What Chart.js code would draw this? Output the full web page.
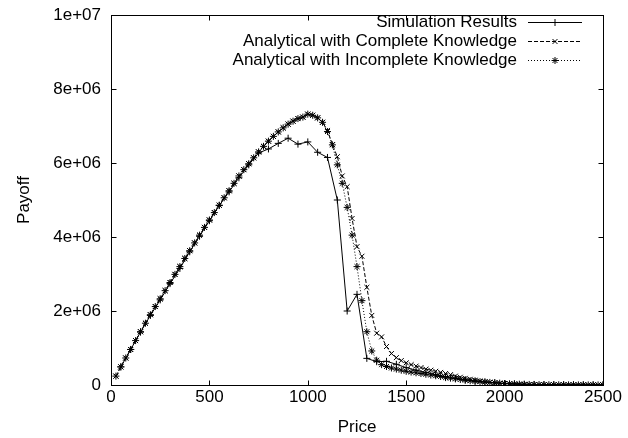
<!DOCTYPE html>
<html>
<head>
<meta charset="utf-8">
<script src="https://cdn.jsdelivr.net/npm/chart.js@4.4.0/dist/chart.umd.min.js"></script>
<style>
  body { margin: 0; background: #fff; }
</style>
</head>
<body>
<canvas id="payoffChart" width="628" height="438"></canvas>
<script>
// simulation sampled every 50, the analytical curves every 25
var simPrice = [50, 100, 150, 200, 250, 300, 350, 400, 450, 500,
    550, 600, 650, 700, 750, 800, 850, 900, 950, 1000,
    1050, 1100, 1150, 1200, 1250, 1300, 1350, 1400, 1450, 1500,
    1550, 1600, 1650, 1700, 1750, 1800, 1850, 1900, 1950, 2000,
    2050, 2100, 2150, 2200, 2250, 2300, 2350, 2400, 2450, 2500];
var simPayoff = [490000, 960000, 1430000, 1880000, 2300000, 2740000, 3150000, 3600000, 4020000, 4440000,
    4850000, 5220000, 5600000, 5950000, 6270000, 6380000, 6530000, 6670000, 6510000, 6570000,
    6290000, 6150000, 5000000, 2000000, 2450000, 720000, 630000, 640000, 560000, 470000,
    400000, 340000, 280000, 230000, 180000, 140000, 110000, 80000, 60000, 40000,
    30000, 20000, 15000, 10000, 10000, 8000, 6000, 5000, 4000, 3000];

var anaPrice = [25, 50, 75, 100, 125, 150, 175, 200, 225, 250,
    275, 300, 325, 350, 375, 400, 425, 450, 475, 500,
    525, 550, 575, 600, 625, 650, 675, 700, 725, 750,
    775, 800, 825, 850, 875, 900, 925, 950, 975, 1000,
    1025, 1050, 1075, 1100, 1125, 1150, 1175, 1200, 1225, 1250,
    1275, 1300, 1325, 1350, 1375, 1400, 1425, 1450, 1475, 1500,
    1525, 1550, 1575, 1600, 1625, 1650, 1675, 1700, 1725, 1750,
    1775, 1800, 1825, 1850, 1875, 1900, 1925, 1950, 1975, 2000,
    2025, 2050, 2075, 2100, 2125, 2150, 2175, 2200, 2225, 2250,
    2275, 2300, 2325, 2350, 2375, 2400, 2425, 2450, 2475, 2500];
var completePayoff = [240000, 490000, 730000, 960000, 1200000, 1440000, 1670000, 1900000, 2120000, 2330000,
    2550000, 2770000, 2990000, 3200000, 3420000, 3630000, 3840000, 4050000, 4260000, 4460000,
    4660000, 4860000, 5060000, 5250000, 5450000, 5650000, 5820000, 5980000, 6140000, 6300000,
    6450000, 6590000, 6720000, 6840000, 6950000, 7050000, 7130000, 7200000, 7240000, 7320000,
    7290000, 7220000, 7100000, 6880000, 6500000, 6170000, 5650000, 5360000, 4500000, 3740000,
    3480000, 2640000, 1880000, 1400000, 1300000, 1040000, 850000, 740000, 660000, 600000,
    550000, 510000, 470000, 430000, 400000, 370000, 340000, 310000, 280000, 240000,
    210000, 180000, 155000, 130000, 110000, 90000, 75000, 60000, 50000, 40000,
    32000, 26000, 21000, 17000, 14000, 12000, 10000, 8500, 7000, 6000,
    5000, 4200, 3500, 3000, 2500, 2100, 1800, 1500, 1200, 1000];
var incompletePayoff = [240000, 490000, 730000, 960000, 1200000, 1440000, 1670000, 1900000, 2120000, 2330000,
    2550000, 2770000, 2990000, 3200000, 3420000, 3630000, 3840000, 4050000, 4260000, 4460000,
    4660000, 4860000, 5060000, 5250000, 5450000, 5650000, 5820000, 5980000, 6140000, 6300000,
    6450000, 6590000, 6720000, 6840000, 6950000, 7050000, 7130000, 7200000, 7240000, 7320000,
    7290000, 7220000, 7100000, 6850000, 6490000, 5950000, 5450000, 4800000, 4050000, 3200000,
    2280000, 1440000, 920000, 670000, 550000, 500000, 460000, 430000, 400000, 370000,
    350000, 330000, 310000, 290000, 270000, 250000, 230000, 200000, 185000, 165000,
    150000, 130000, 115000, 100000, 90000, 80000, 70000, 60000, 50000, 40000,
    33000, 27000, 22000, 18000, 15000, 12000, 10000, 8500, 7000, 6000,
    5000, 4200, 3500, 3000, 2500, 2100, 1800, 1500, 1200, 1000];

var seriesNames = ['Simulation Results', 'Analytical with Complete Knowledge', 'Analytical with Incomplete Knowledge'];
var xTicks = [0, 500, 1000, 1500, 2000, 2500];
var yTicks = [0, 2000000, 4000000, 6000000, 8000000, 10000000];

var FONT = 'Liberation Sans, Arial, Helvetica, sans-serif';

function toPoints(xs, ys) {
    return xs.map(function (x, i) { return {x: x, y: ys[i]}; });
}

// gnuplot style %g labels: 2e+06, 1e+07
function gnuLabel(v) {
    if (v === 0) return '0';
    if (Math.abs(v) < 1e5) return String(v);
    return v.toExponential().replace(/e\+(\d)$/, 'e+0$1');
}

// box border, inward mirrored ticks and the key in the top right corner
var gnuplotFrame = {
    id: 'gnuplotFrame',
    afterDraw: function (chart) {
        var ctx = chart.ctx;
        var a = chart.chartArea;
        var sx = chart.scales.x, sy = chart.scales.y;
        var L = Math.round(a.left) + 0.5, R = Math.round(a.right) + 0.5;
        var T = Math.round(a.top) + 0.5, B = Math.round(a.bottom) + 0.5;
        var tl = 5;

        ctx.save();
        ctx.strokeStyle = '#000';
        ctx.lineWidth = 1;
        ctx.setLineDash([]);
        ctx.strokeRect(L, T, R - L, B - T);

        ctx.beginPath();
        xTicks.forEach(function (v) {
            var px = Math.round(sx.getPixelForValue(v)) + 0.5;
            ctx.moveTo(px, B); ctx.lineTo(px, B - tl);
            ctx.moveTo(px, T); ctx.lineTo(px, T + tl);
        });
        yTicks.forEach(function (v) {
            var py = Math.round(sy.getPixelForValue(v)) + 0.5;
            ctx.moveTo(L, py); ctx.lineTo(L + tl, py);
            ctx.moveTo(R, py); ctx.lineTo(R - tl, py);
        });
        ctx.stroke();

        // key
        var lineEnd = a.right - 21, lineStart = lineEnd - 54;
        ctx.font = '17px ' + FONT;
        ctx.textAlign = 'right';
        ctx.textBaseline = 'middle';
        ctx.fillStyle = '#000';
        chart.data.datasets.forEach(function (ds, i) {
            var y = Math.round(a.top + 7 + i * 19) + 0.5;
            ctx.fillText(ds.label, lineStart - 11, y);
            ctx.setLineDash(ds.borderDash || []);
            ctx.beginPath();
            ctx.moveTo(lineStart, y);
            ctx.lineTo(lineEnd, y);
            ctx.stroke();
            ctx.setLineDash([]);
            Chart.helpers.drawPoint(ctx, {
                pointStyle: ds.pointStyle,
                radius: ds.pointRadius,
                rotation: 0,
                borderWidth: 1
            }, (lineStart + lineEnd) / 2, y);
        });
        ctx.restore();
    }
};

var ctx = document.getElementById('payoffChart').getContext('2d');

var payoffChart = new Chart(ctx, {
    type: 'line',
    data: {
        datasets: [
            {
                label: seriesNames[0],
                data: toPoints(simPrice, simPayoff),
                borderColor: '#000',
                borderWidth: 1,
                pointStyle: 'cross',
                pointRadius: 3.5,
                pointBorderColor: '#000',
                pointBorderWidth: 1
            },
            {
                label: seriesNames[1],
                data: toPoints(anaPrice, completePayoff),
                borderColor: '#000',
                borderWidth: 1,
                borderDash: [4, 2],
                pointStyle: 'crossRot',
                pointRadius: 3.5,
                pointBorderColor: '#000',
                pointBorderWidth: 1
            },
            {
                label: seriesNames[2],
                data: toPoints(anaPrice, incompletePayoff),
                borderColor: '#000',
                borderWidth: 1,
                borderDash: [1, 2],
                pointStyle: 'star',
                pointRadius: 3.5,
                pointBorderColor: '#000',
                pointBorderWidth: 1
            }
        ]
    },
    options: {
        responsive: false,
        animation: false,
        layout: {padding: {top: 15, right: 25, left: 0, bottom: 0}},
        plugins: {
            legend: {display: false},
            tooltip: {enabled: false}
        },
        scales: {
            x: {
                type: 'linear',
                min: 0,
                max: 2500,
                afterBuildTicks: function (scale) {
                    scale.ticks = xTicks.map(function (v) { return {value: v}; });
                },
                afterFit: function (scale) {
                    scale.height = 53;
                    scale.paddingLeft = 0;
                    scale.paddingRight = 0;
                },
                grid: {display: false, drawTicks: false},
                border: {display: false},
                ticks: {
                    color: '#000',
                    padding: 2,
                    maxRotation: 0,
                    font: {family: FONT, size: 17},
                    callback: function (v) { return gnuLabel(v); }
                },
                title: {
                    display: true,
                    text: 'Price',
                    color: '#000',
                    padding: {top: 0, bottom: 1},
                    font: {family: FONT, size: 17, lineHeight: 1.1}
                }
            },
            y: {
                min: 0,
                max: 10000000,
                afterBuildTicks: function (scale) {
                    scale.ticks = yTicks.map(function (v) { return {value: v}; });
                },
                afterFit: function (scale) {
                    scale.width = 111;
                    scale.paddingTop = 0;
                    scale.paddingBottom = 0;
                },
                grid: {display: false, drawTicks: false},
                border: {display: false},
                ticks: {
                    color: '#000',
                    padding: 10,
                    font: {family: FONT, size: 17},
                    callback: function (v) { return gnuLabel(v); }
                },
                title: {
                    display: true,
                    text: 'Payoff',
                    color: '#000',
                    padding: {top: 15, bottom: 0},
                    font: {family: FONT, size: 17, lineHeight: 1.1}
                }
            }
        }
    },
    plugins: [gnuplotFrame]
});
</script>
</body>
</html>
